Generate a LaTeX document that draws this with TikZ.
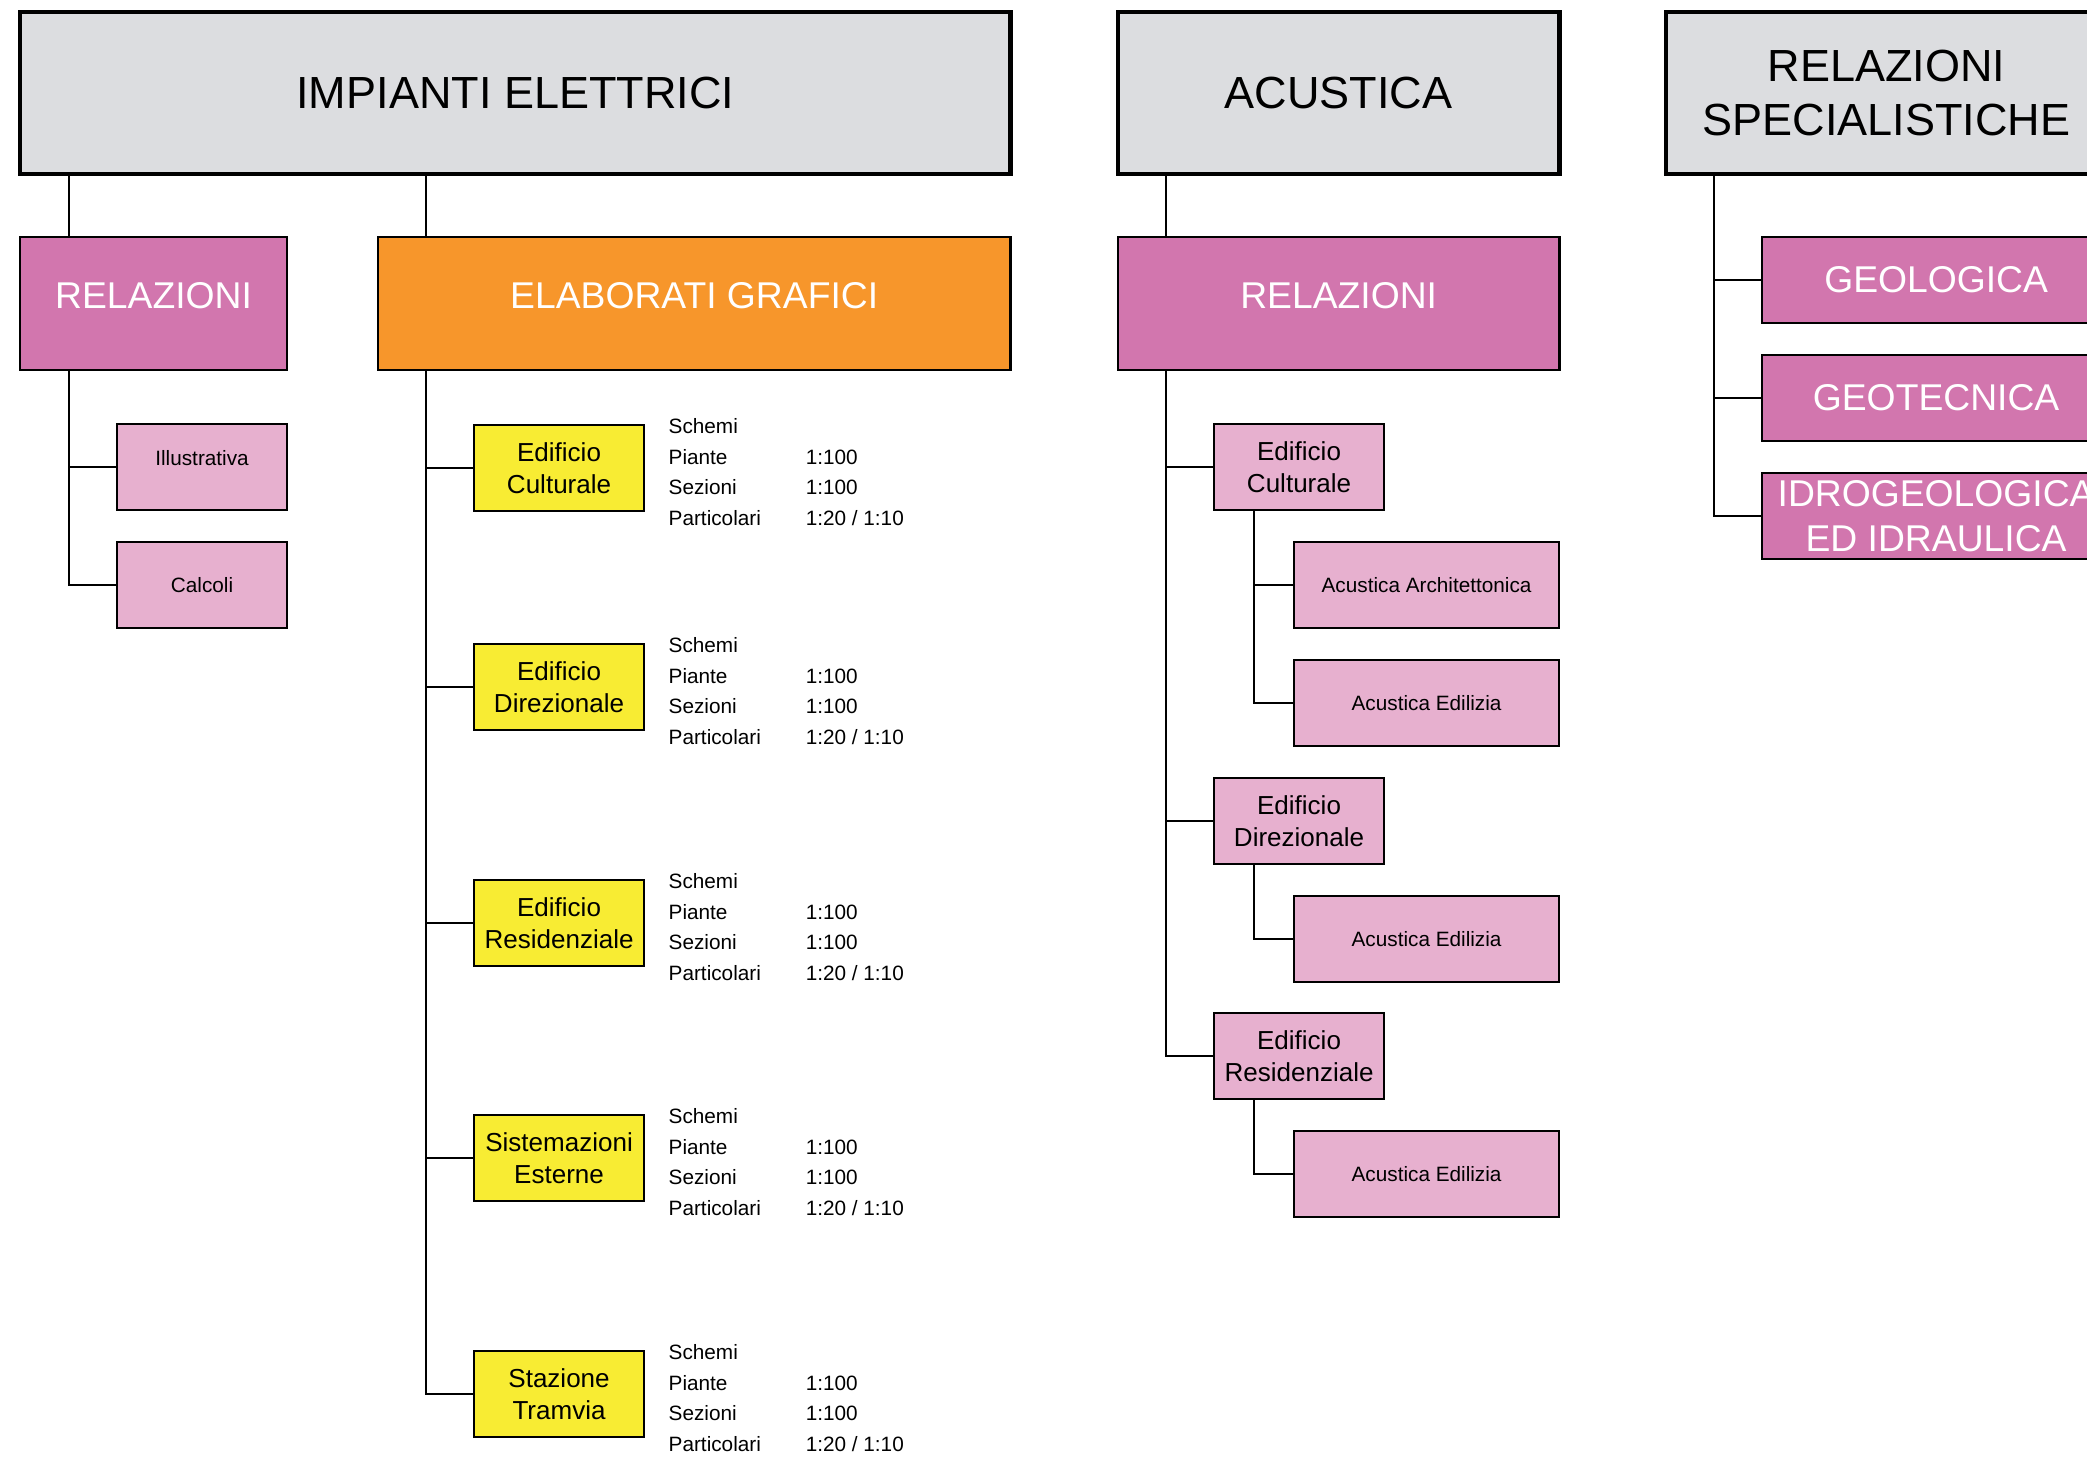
\documentclass[tikz,border=0pt]{standalone}
\usepackage{fontspec}
\setmainfont{Liberation Sans}
\usetikzlibrary{positioning}

\definecolor{grigio}{RGB}{220,221,224}
\definecolor{rosascuro}{RGB}{210,118,174}
\definecolor{rosa}{RGB}{231,176,207}
\definecolor{arancio}{RGB}{247,150,43}
\definecolor{giallo}{RGB}{248,236,51}

\newcommand{\tavole}{%
  \begin{tabular}[t]{@{}p{1.37cm}@{}l@{}}
    Schemi & \\
    Piante & 1:100 \\
    Sezioni & 1:100 \\
    Particolari & 1:20 / 1:10
  \end{tabular}}

\begin{document}
\begin{tikzpicture}[
    x=0.01cm, y=-0.01cm,
    box/.style={draw, line width=0.7pt, inner sep=0pt, outer sep=0pt, anchor=north west, align=center},
    testa/.style={box, fill=grigio, line width=1.3pt, minimum height=1.62cm, font=\fontsize{12.8}{15.5}\selectfont},
    rel/.style={box, fill=rosascuro, text=white, minimum height=1.33cm, font=\fontsize{10.6}{12.9}\selectfont},
    graf/.style={rel, fill=arancio},
    specbox/.style={rel, minimum width=3.48cm, minimum height=0.86cm},
    sub/.style={box, fill=rosa, minimum height=0.86cm, font=\fontsize{5.9}{7.2}\selectfont},
    edif/.style={box, fill=giallo, minimum width=1.70cm, minimum height=0.86cm, font=\fontsize{7.4}{9.1}\selectfont},
    edifac/.style={edif, fill=rosa},
    tav/.style={anchor=base west, inner sep=0pt, font=\fontsize{5.9}{8.7}\selectfont},
    wire/.style={draw, line width=0.6pt}
]
    \clip (0,0) rectangle (2087,1459);

    % impianti elettrici
    \node[testa, minimum width=9.90cm] (imp) at (20,12) {IMPIANTI ELETTRICI};
    \node[rel, minimum width=2.67cm] (relA) at (20,237) {\raisebox{0.16cm}{RELAZIONI}};
    \node[graf, minimum width=6.32cm] (graf) at (378,237) {\raisebox{0.16cm}{ELABORATI GRAFICI}};
    \node[sub, minimum width=1.70cm] (illus) at (117,424) {\raisebox{0.19cm}{Illustrativa}};
    \node[sub, minimum width=1.70cm] (calc) at (117,542) {Calcoli};

    \node[edif] (g1) at (474,425) {Edificio\\Culturale};
    \node[edif] (g2) at (474,644) {Edificio\\Direzionale};
    \node[edif] (g3) at (474,880) {Edificio\\Residenziale};
    \node[edif] (g4) at (474,1115) {Sistemazioni\\Esterne};
    \node[edif] (g5) at (474,1351) {Stazione\\Tramvia};

    \node[tav] (t1) at (668,433.5) {\tavole};
    \node[tav] (t2) at (668,652.5) {\tavole};
    \node[tav] (t3) at (668,888.5) {\tavole};
    \node[tav] (t4) at (668,1123.5) {\tavole};
    \node[tav] (t5) at (668,1359.5) {\tavole};

    % acustica
    \node[testa, minimum width=4.41cm] (acu) at (1118,12) {ACUSTICA};
    \node[rel, minimum width=4.41cm] (relB) at (1118,237) {\raisebox{0.16cm}{RELAZIONI}};
    \node[edifac] (ac1) at (1214,424) {Edificio\\Culturale};
    \node[edifac] (ac2) at (1214,778) {Edificio\\Direzionale};
    \node[edifac] (ac3) at (1214,1013) {Edificio\\Residenziale};
    \node[sub, minimum width=2.65cm] (aa1) at (1294,542) {Acustica Architettonica};
    \node[sub, minimum width=2.65cm] (ae1) at (1294,660) {Acustica Edilizia};
    \node[sub, minimum width=2.65cm] (ae2) at (1294,896) {Acustica Edilizia};
    \node[sub, minimum width=2.65cm] (ae3) at (1294,1131) {Acustica Edilizia};

    % relazioni specialistiche
    \node[testa, minimum width=4.41cm] (spec) at (1666,12) {RELAZIONI\\SPECIALISTICHE};
    \node[specbox] (geol) at (1762,237) {GEOLOGICA};
    \node[specbox] (geot) at (1762,355) {GEOTECNICA};
    \node[specbox] (idro) at (1762,473) {IDROGEOLOGICA\\ED IDRAULICA};

    % linee
    \coordinate (bA) at (69,0);
    \coordinate (bB) at (426,0);
    \coordinate (bC) at (1166,0);
    \coordinate (bD) at (1254,0);
    \coordinate (bE) at (1714,0);

    \draw[wire] (imp.south -| bA) -- (relA.north -| bA);
    \draw[wire] (imp.south -| bB) -- (graf.north -| bB);
    \draw[wire] (relA.south -| bA) |- (illus.west);
    \draw[wire] (relA.south -| bA) |- (calc.west);
    \draw[wire] (graf.south -| bB) |- (g1.west);
    \draw[wire] (graf.south -| bB) |- (g2.west);
    \draw[wire] (graf.south -| bB) |- (g3.west);
    \draw[wire] (graf.south -| bB) |- (g4.west);
    \draw[wire] (graf.south -| bB) |- (g5.west);

    \draw[wire] (acu.south -| bC) -- (relB.north -| bC);
    \draw[wire] (relB.south -| bC) |- (ac1.west);
    \draw[wire] (relB.south -| bC) |- (ac2.west);
    \draw[wire] (relB.south -| bC) |- (ac3.west);
    \draw[wire] (ac1.south -| bD) |- (aa1.west);
    \draw[wire] (ac1.south -| bD) |- (ae1.west);
    \draw[wire] (ac2.south -| bD) |- (ae2.west);
    \draw[wire] (ac3.south -| bD) |- (ae3.west);

    \draw[wire] (spec.south -| bE) |- (geol.west);
    \draw[wire] (spec.south -| bE) |- (geot.west);
    \draw[wire] (spec.south -| bE) |- (idro.west);
\end{tikzpicture}
\end{document}
